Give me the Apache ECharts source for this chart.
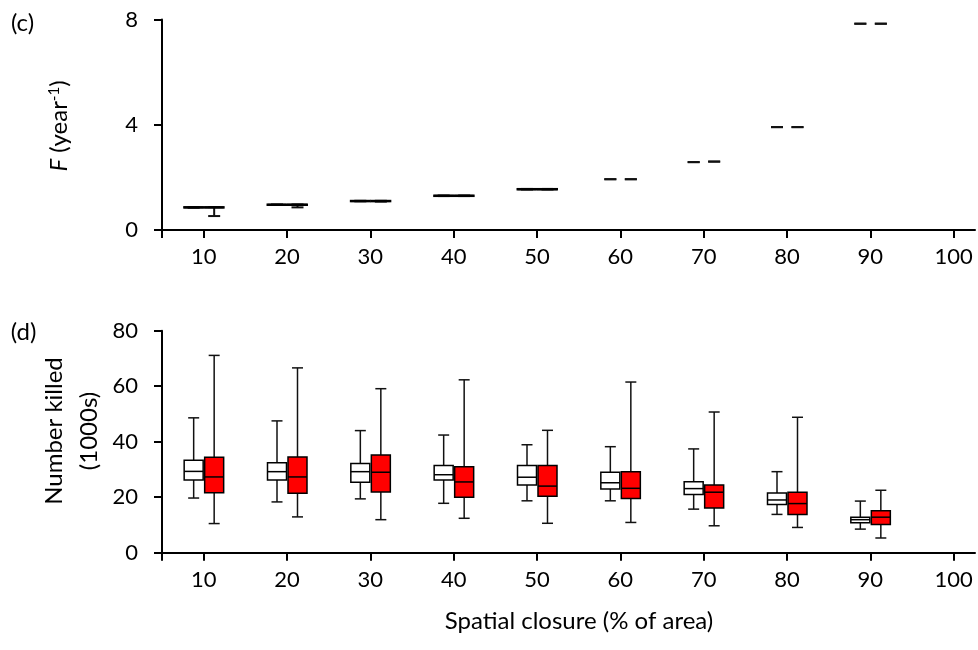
<!DOCTYPE html>
<html>
<head>
<meta charset="utf-8">
<script src="https://cdn.jsdelivr.net/npm/echarts@6/dist/echarts.min.js"></script>
<style>
html,body{margin:0;padding:0;background:#fff;}
#chart{width:978px;height:650px;}
</style>
</head>
<body>
<div id="chart"></div>
<script>
// Categories (spatial closure, % of area)
const categories = [10, 20, 30, 40, 50, 60, 70, 80, 90, 100];
const xTickLabels = [10, 20, 30, 40, 50, 60, 70, 80, 90, 100];
const fTicks = [0, 4, 8];
const killedTicks = [0, 20, 40, 60, 80];

// Panel (c): F (year^-1), [min, q1, median, q3, max]
const fWhite = [
  [0.85, 0.85, 0.86, 0.87, 0.87],
  [0.95, 0.95, 0.96, 0.97, 0.97],
  [1.09, 1.09, 1.10, 1.11, 1.11],
  [1.29, 1.29, 1.30, 1.31, 1.31],
  [1.54, 1.54, 1.55, 1.56, 1.56],
  [1.93, 1.93, 1.93, 1.93, 1.93],
  [2.58, 2.58, 2.58, 2.58, 2.58],
  [3.91, 3.91, 3.91, 3.91, 3.91],
  [7.84, 7.84, 7.84, 7.84, 7.84]
];
const fRed = [
  [0.53, 0.85, 0.86, 0.87, 0.87],
  [0.86, 0.95, 0.96, 0.97, 0.97],
  [1.08, 1.09, 1.10, 1.11, 1.11],
  [1.29, 1.29, 1.30, 1.31, 1.31],
  [1.54, 1.54, 1.55, 1.56, 1.56],
  [1.93, 1.93, 1.93, 1.93, 1.93],
  [2.60, 2.60, 2.60, 2.60, 2.60],
  [3.91, 3.91, 3.91, 3.91, 3.91],
  [7.84, 7.84, 7.84, 7.84, 7.84]
];

// Panel (d): Number killed (1000s), [min, q1, median, q3, max]
const killedWhite = [
  [19.7, 26.2, 29.3, 33.3, 48.6],
  [18.3, 26.2, 29.2, 32.4, 47.5],
  [19.4, 25.4, 29.2, 32.1, 44.0],
  [17.8, 26.2, 28.1, 31.4, 42.4],
  [18.7, 24.4, 27.2, 31.4, 38.9],
  [18.7, 23.0, 25.2, 29.0, 38.2],
  [15.7, 21.0, 23.1, 25.6, 37.4],
  [13.8, 17.4, 19.0, 21.5, 29.2],
  [8.5, 10.8, 11.9, 12.8, 18.6]
];
const killedRed = [
  [10.5, 21.6, 27.3, 34.4, 71.1],
  [12.9, 21.4, 27.3, 34.5, 66.6],
  [11.9, 21.9, 29.0, 35.2, 59.1],
  [12.4, 20.0, 25.5, 31.0, 62.3],
  [10.6, 20.3, 24.0, 31.4, 44.1],
  [10.9, 19.5, 23.2, 29.2, 61.5],
  [9.7, 16.1, 21.8, 24.4, 50.7],
  [9.1, 13.8, 17.7, 21.8, 48.8],
  [5.3, 10.2, 12.8, 15.1, 22.5]
];

const FONT = 'Lato';

function build(arr) {
  return arr.map((v, i) => [categories[i]].concat(v));
}

function makeRender(offsetPx, fill, boxW, capW, lw) {
  return function (params, api) {
    const x = api.value(0);
    const mn = api.value(1), q1 = api.value(2), md = api.value(3), q3 = api.value(4), mx = api.value(5);
    const cx = api.coord([x, 0])[0] + offsetPx;
    const y = v => api.coord([x, v])[1];
    const ls = { stroke: '#111', lineWidth: lw };
    const ch = [];
    if (mx > q3) ch.push({ type: 'line', shape: { x1: cx, y1: y(q3), x2: cx, y2: y(mx) }, style: ls });
    if (mn < q1) ch.push({ type: 'line', shape: { x1: cx, y1: y(mn), x2: cx, y2: y(q1) }, style: ls });
    ch.push({ type: 'line', shape: { x1: cx - capW / 2, y1: y(mx), x2: cx + capW / 2, y2: y(mx) }, style: ls });
    ch.push({ type: 'line', shape: { x1: cx - capW / 2, y1: y(mn), x2: cx + capW / 2, y2: y(mn) }, style: ls });
    if (q3 > q1) {
      ch.push({ type: 'rect', shape: { x: cx - boxW / 2, y: y(q3), width: boxW, height: y(q1) - y(q3) },
        style: { fill: fill, stroke: '#000', lineWidth: lw } });
      ch.push({ type: 'line', shape: { x1: cx - boxW / 2, y1: y(md), x2: cx + boxW / 2, y2: y(md) },
        style: { stroke: '#000', lineWidth: lw } });
    }
    return { type: 'group', children: ch };
  };
}

const xCommon = {
  type: 'value', min: 5, max: 102.56,
  axisLine: { show: true, onZero: false, lineStyle: { color: '#000', width: 2 } },
  axisTick: { show: true, length: 8, customValues: [5].concat(xTickLabels), lineStyle: { color: '#000', width: 2 } },
  axisLabel: { customValues: xTickLabels, color: '#000', fontFamily: FONT, fontSize: 22, margin: 16 },
  splitLine: { show: false }
};
const yCommon = {
  type: 'value',
  axisLine: { show: true, lineStyle: { color: '#000', width: 2 } },
  axisTick: { show: true, length: 8, lineStyle: { color: '#000', width: 2 } },
  axisLabel: { color: '#000', fontFamily: FONT, fontSize: 22, margin: 24 },
  splitLine: { show: false }
};

const chart = echarts.init(document.getElementById('chart'));
chart.setOption({
  animation: false,
  backgroundColor: '#fff',
  grid: [
    { left: 162, top: 19.5, width: 813, height: 210.5 },
    { left: 162, top: 330.7, width: 813, height: 222 }
  ],
  xAxis: [
    Object.assign({ gridIndex: 0 }, xCommon),
    Object.assign({ gridIndex: 1 }, xCommon)
  ],
  yAxis: [
    Object.assign({}, yCommon, { gridIndex: 0, min: fTicks[0], max: fTicks[fTicks.length - 1], interval: 4 }),
    Object.assign({}, yCommon, { gridIndex: 1, min: killedTicks[0], max: killedTicks[killedTicks.length - 1], interval: 20 })
  ],
  series: [
    { type: 'custom', xAxisIndex: 0, yAxisIndex: 0, data: build(fWhite), renderItem: makeRender(-10, '#fff', 19, 12, 2), encode: { x: 0, y: [1, 2, 3, 4, 5] } },
    { type: 'custom', xAxisIndex: 0, yAxisIndex: 0, data: build(fRed), renderItem: makeRender(10.5, '#ff0000', 19, 12, 2), encode: { x: 0, y: [1, 2, 3, 4, 5] } },
    { type: 'custom', xAxisIndex: 1, yAxisIndex: 1, data: build(killedWhite), renderItem: makeRender(-10, '#fff', 19, 11, 1.5), encode: { x: 0, y: [1, 2, 3, 4, 5] } },
    { type: 'custom', xAxisIndex: 1, yAxisIndex: 1, data: build(killedRed), renderItem: makeRender(10.5, '#ff0000', 19, 11, 1.5), encode: { x: 0, y: [1, 2, 3, 4, 5] } }
  ],
  graphic: [
    { type: 'text', x: 22.5, y: 23, style: { text: '(c)', align: 'center', verticalAlign: 'middle', font: '24px Lato', fill: '#000' } },
    { type: 'text', x: 23.5, y: 332, style: { text: '(d)', align: 'center', verticalAlign: 'middle', font: '24px Lato', fill: '#000' } },
    { type: 'text', x: 59, y: 126, rotation: Math.PI / 2,
      style: { text: '{i|F} (year{s|-1})', align: 'center', verticalAlign: 'middle', font: '24px Lato', fill: '#000',
        rich: { i: { font: 'italic 24px Lato' }, s: { font: '15px Lato', verticalAlign: 'top', lineHeight: 24 } } } },
    { type: 'text', x: 71.5, y: 431, rotation: Math.PI / 2,
      style: { text: 'Number killed\n(1000s)', align: 'center', verticalAlign: 'middle', font: '24px Lato', lineHeight: 35, fill: '#000' } },
    { type: 'text', x: 579, y: 621,
      style: { text: 'Spatial closure (% of area)', align: 'center', verticalAlign: 'middle', font: '24px Lato', fill: '#000' } }
  ]
});
</script>
</body>
</html>
